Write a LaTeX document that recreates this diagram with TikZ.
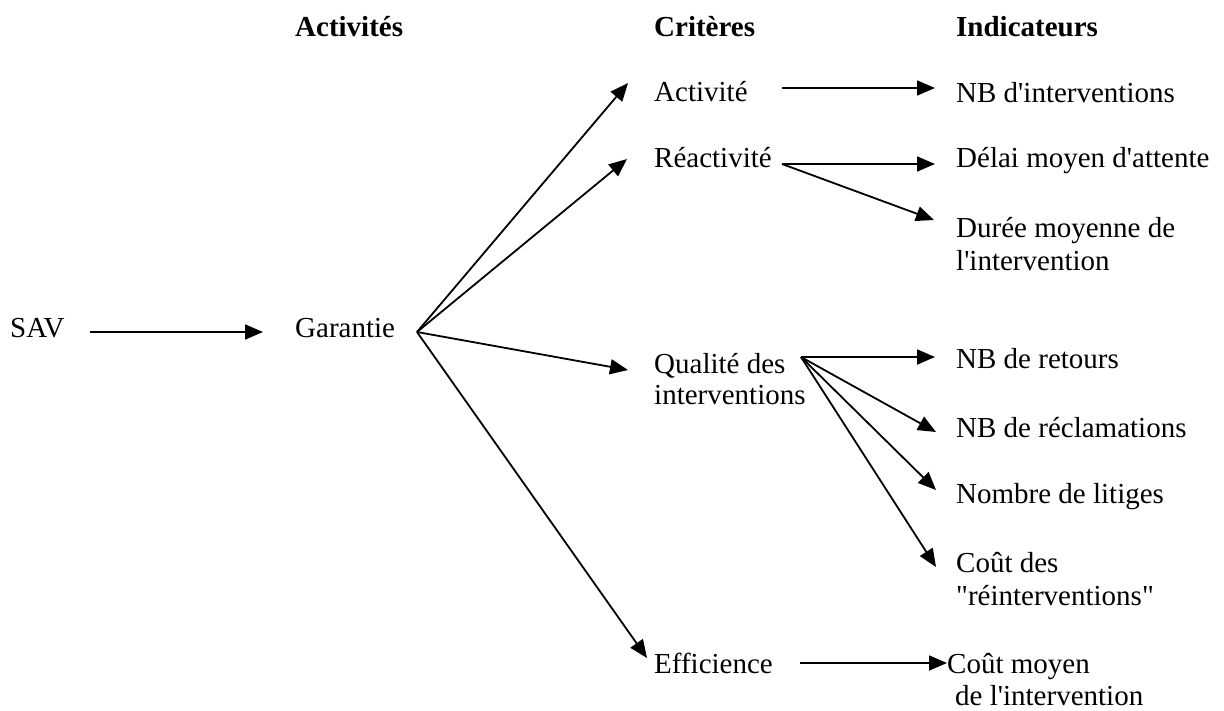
\documentclass[tikz,border=0pt]{standalone}
\usepackage{fontspec}
\newfontfamily\lib{Liberation Serif}
\usetikzlibrary{arrows.meta}
\tikzset{
  txt/.style={anchor=base west, inner sep=0pt, font=\lib\fontsize{29}{32}\selectfont, align=left},
  head/.style={txt, font=\lib\bfseries\fontsize{29}{32}\selectfont},
  arr/.style={line width=1.8pt, -{Triangle[length=18pt,width=15pt]}}
}
\begin{document}
\begin{tikzpicture}[x=1pt,y=-1pt]
\useasboundingbox (0,0) rectangle (1224,710);
% headers
\node[head] (hA) at (295,36) {Activités};
\node[head] (hC) at (654,36) {Critères};
\node[head] (hI) at (956,36) {Indicateurs};
% nodes
\node[txt] (sav) at (10,337) {SAV};
\node[txt] (gar) at (295,337) {Garantie};
\node[txt] (act) at (654,101) {Activité};
\node[txt] (rea) at (654,167) {Réactivité};
\node[txt] (qual) at (654,373) {Qualité des};
\node[txt] (qual2) at (654,404) {interventions};
\node[txt] (eff) at (654,673) {Efficience};
\node[txt] (nbi) at (956,102) {NB d'interventions};
\node[txt] (delai) at (956,167) {Délai moyen d'attente};
\node[txt] (duree) at (956,237) {Durée moyenne de};
\node[txt] (duree2) at (956,270) {l'intervention};
\node[txt] (ret) at (956,368) {NB de retours};
\node[txt] (recl) at (956,437) {NB de réclamations};
\node[txt] (lit) at (956,503) {Nombre de litiges};
\node[txt] (cout) at (956,572) {Coût des};
\node[txt] (cout2) at (956,605) {"réinterventions"};
\node[txt] (cm) at (947,673) {Coût moyen};
\node[txt] (cm2) at (955,705) {de l'intervention};
% connector endpoints
\coordinate (sA) at (90,332);
\coordinate (sB) at (263,332);
\coordinate (g) at (417,332);
\coordinate (tAct) at (628,83);
\coordinate (tRea) at (627,159);
\coordinate (tQual) at (628,370);
\coordinate (tEff) at (647,658);
\coordinate (aS) at (782,88);
\coordinate (aE) at (935,88);
\coordinate (r) at (782,164);
\coordinate (rE1) at (935,164);
\coordinate (rE2) at (934,220);
\coordinate (q) at (801,357);
\coordinate (qE1) at (935,357);
\coordinate (qE2) at (936,432);
\coordinate (qE3) at (936,490);
\coordinate (qE4) at (936,567);
\coordinate (eS) at (800,663);
\coordinate (eE) at (947,663);
% connectors
\draw[arr] (sA) -- (sB);
\draw[arr] (g) -- (tAct);
\draw[arr] (g) -- (tRea);
\draw[arr] (g) -- (tQual);
\draw[arr] (g) -- (tEff);
\draw[arr] (aS) -- (aE);
\draw[arr] (r) -- (rE1);
\draw[arr] (r) -- (rE2);
\draw[arr] (q) -- (qE1);
\draw[arr] (q) -- (qE2);
\draw[arr] (q) -- (qE3);
\draw[arr] (q) -- (qE4);
\draw[arr] (eS) -- (eE);
\end{tikzpicture}
\end{document}
